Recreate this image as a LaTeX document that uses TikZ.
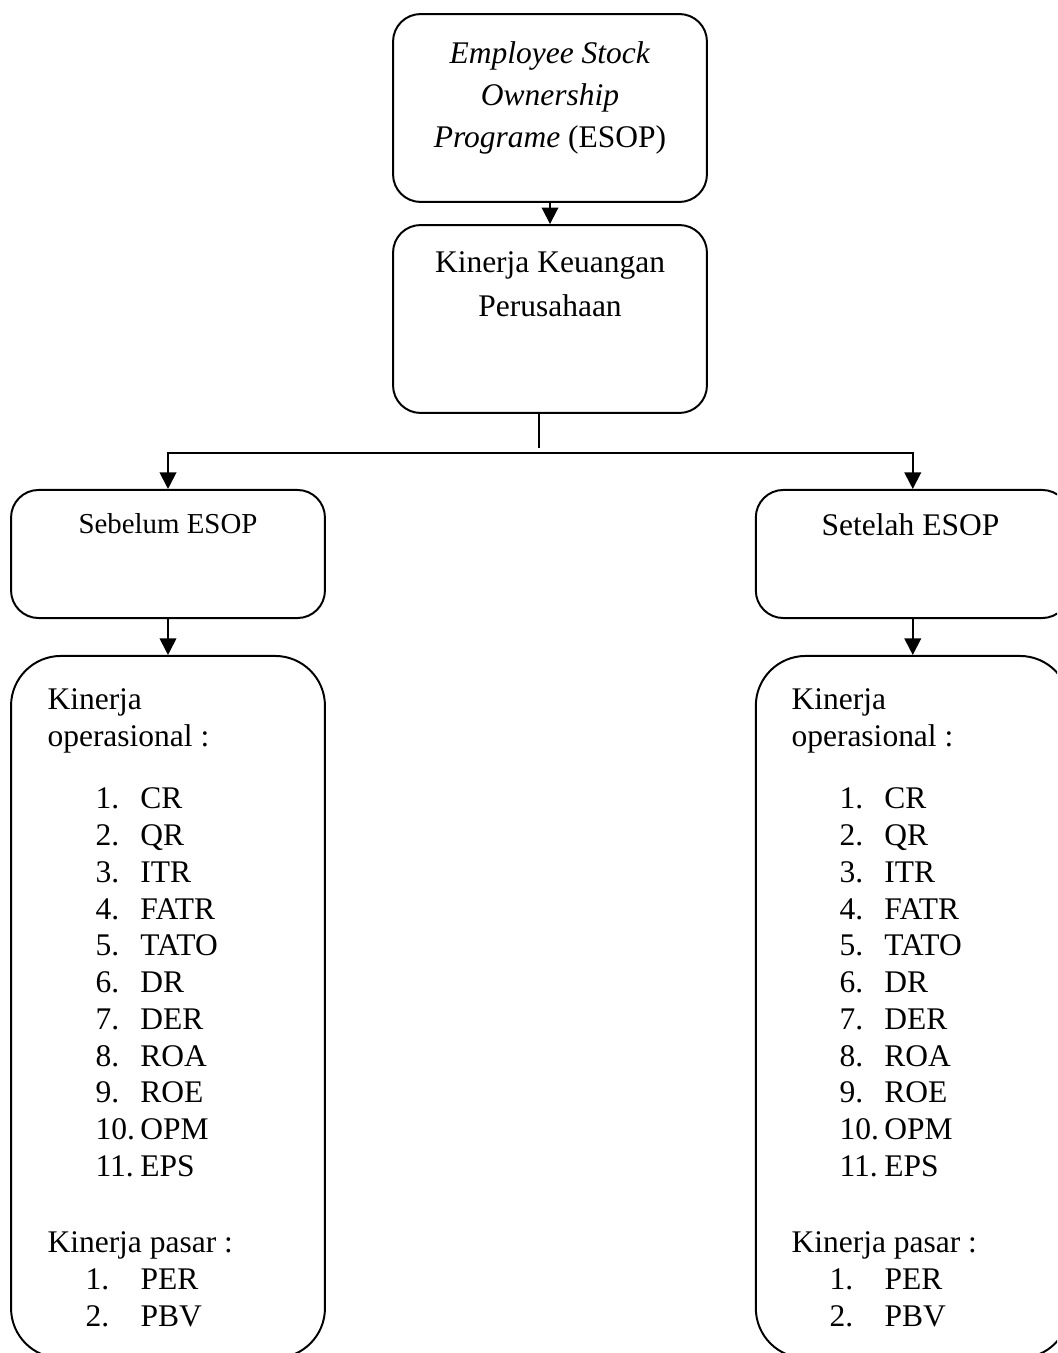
\documentclass[tikz,border=0pt]{standalone}
\usepackage{fontspec}
\setmainfont{Liberation Serif}
\usetikzlibrary{positioning, arrows.meta, calc}
\definecolor{borderMain}{HTML}{000000}
\definecolor{arrowColor}{HTML}{000000}
\definecolor{textMain}{HTML}{000000}
\newcommand{\opitem}[2]{\hspace*{18.3pt}\makebox[17.1pt][l]{#1}#2}
\newcommand{\mkitem}[2]{\hspace*{14.5pt}\makebox[21pt][l]{#1}#2}
\newcommand{\kinerjalist}{%
  Kinerja\\
  operasional :\\[9.75pt]
  \opitem{1.}{CR}\\
  \opitem{2.}{QR}\\
  \opitem{3.}{ITR}\\
  \opitem{4.}{FATR}\\
  \opitem{5.}{TATO}\\
  \opitem{6.}{DR}\\
  \opitem{7.}{DER}\\
  \opitem{8.}{ROA}\\
  \opitem{9.}{ROE}\\
  \opitem{10.}{OPM}\\
  \opitem{11.}{EPS}\\[15pt]
  Kinerja pasar :\\
  \mkitem{1.}{PER}\\
  \mkitem{2.}{PBV}}
\tikzset{
  flowbox/.style={
    draw=borderMain, rounded corners=10.5pt, line width=0.75pt,
    minimum width=119.6pt, minimum height=71.6pt, inner sep=0pt,
  },
  phasebox/.style={flowbox, minimum height=48.8pt},
  listbox/.style={flowbox, rounded corners=19pt, minimum height=267.5pt},
  boxtext/.style={
    font=\fontsize{12}{16}\selectfont, text=textMain, align=center, inner sep=0pt,
  },
  listtext/.style={
    font=\fontsize{12}{14}\selectfont, text=textMain, align=left, inner sep=0pt,
  },
  stdarrow/.style={
    -{Triangle[length=6.3pt, width=6.3pt]}, line width=0.75pt, color=arrowColor,
  },
  stdline/.style={line width=0.75pt, color=arrowColor},
}

\begin{document}
\begin{tikzpicture}[x=0.381pt, y=-0.381pt]

  \path[clip, use as bounding box] (0,0) rectangle (1057,1353);

  % === Top column: ESOP and financial performance ===
  \node[flowbox] (esop) at (550,108) {};
  \node[flowbox] (kinerja) at (550,319) {};
  \node[boxtext, anchor=north] (esopTxt) at (550,41.5)
    {\textit{Employee Stock}\\\textit{Ownership}\\\textit{Programe} (ESOP)};
  \node[boxtext, font=\fontsize{12}{16.8}\selectfont, anchor=north] (kinerjaTxt) at (550,251.5)
    {Kinerja Keuangan\\Perusahaan};

  % === Before / after boxes ===
  \node[phasebox] (sebelum) at (168,554) {};
  \node[phasebox, right=163.4pt of sebelum] (setelah) {};
  \node[font=\fontsize{11}{13}\selectfont, text=textMain, anchor=base] (sebelumTxt) at (168,533) {Sebelum ESOP};
  \node[font=\fontsize{12}{14}\selectfont, text=textMain, anchor=base] (setelahTxt) at (910.5,535) {Setelah ESOP};

  % === Indicator lists (cut by the page edge) ===
  \node[listbox] (opL) at (168,1007) {};
  \node[listbox, right=163.4pt of opL] (opR) {};
  \node[listtext, anchor=north west] (opLTxt) at (47,688.5) {\kinerjalist};
  \node[listtext, anchor=north west] (opRTxt) at (791,688.5) {\kinerjalist};

  % === Connectors ===
  \draw[stdarrow] (esop) -- (kinerja);
  \coordinate (splitEnd) at (539,448);
  \coordinate (bus) at (539,453);
  \draw[stdline] (kinerja.south -| splitEnd) -- (splitEnd);
  \draw[stdarrow] (bus) -| (sebelum.north);
  \draw[stdarrow] (bus) -| (setelah.north);
  \draw[stdarrow] (sebelum) -- (opL);
  \draw[stdarrow] (setelah) -- (opR);

\end{tikzpicture}
\end{document}
